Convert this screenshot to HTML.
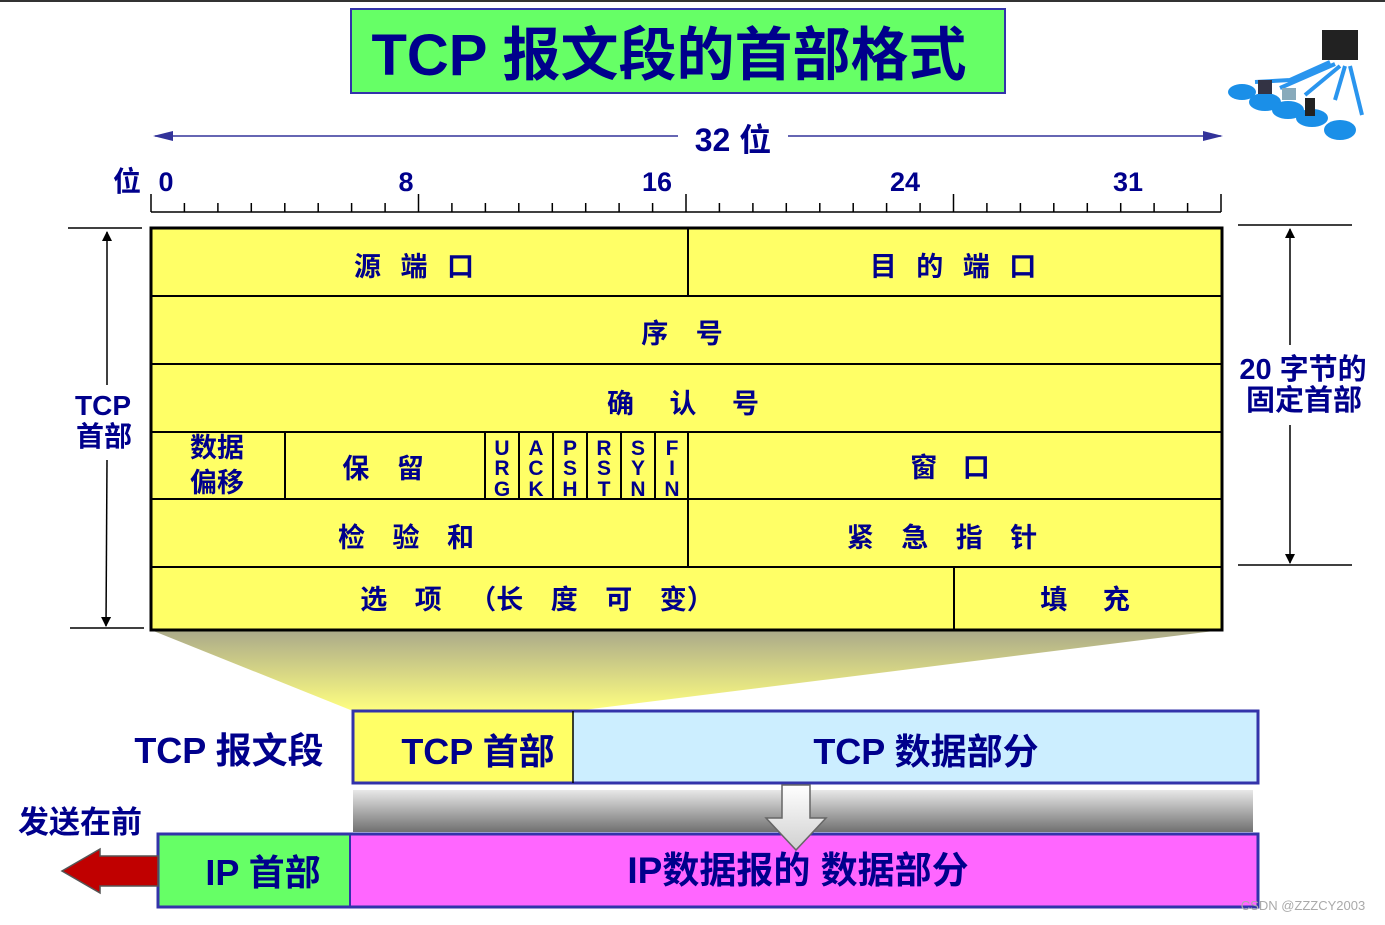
<!DOCTYPE html>
<html><head><meta charset="utf-8"><style>
html,body{margin:0;padding:0;background:#fff;}
svg text{font-family:"Liberation Sans","Noto Sans CJK SC",sans-serif;fill:#00008c;font-weight:bold;}
</style></head><body>
<svg width="1385" height="920" viewBox="0 0 1385 920" xmlns="http://www.w3.org/2000/svg">
<defs>
<linearGradient id="fun" x1="0" y1="0" x2="0" y2="1"><stop offset="0" stop-color="#aaa98a"/><stop offset="1" stop-color="#ffff80"/></linearGradient>
<linearGradient id="gr" x1="0" y1="0" x2="0" y2="1"><stop offset="0" stop-color="#e8e8e8"/><stop offset="1" stop-color="#707070"/></linearGradient>
<linearGradient id="ar" x1="0" y1="0" x2="0" y2="1"><stop offset="0" stop-color="#ffffff"/><stop offset="1" stop-color="#d0d0d0"/></linearGradient>
<marker id="ah" markerWidth="10" markerHeight="10" refX="9" refY="5" orient="auto" markerUnits="userSpaceOnUse"><path d="M0,0 L10,5 L0,10 Z" fill="#000"/></marker>
<marker id="bh" markerWidth="20" markerHeight="10" refX="18" refY="5" orient="auto" markerUnits="userSpaceOnUse"><path d="M0,0 L20,5 L0,10 Z" fill="#33339a"/></marker>
</defs>
<rect x="0" y="0" width="1385" height="2" fill="#333"/>
<!-- title -->
<rect x="351" y="9" width="654" height="84" fill="#66ff66" stroke="#3333aa" stroke-width="2"/>
<text x="669" y="75" font-size="58" text-anchor="middle">TCP 报文段的首部格式</text>
<!-- network icon -->
<g>
<ellipse cx="1242" cy="92" rx="14" ry="8" fill="#1a8fe8"/><ellipse cx="1265" cy="102" rx="16" ry="9" fill="#1a8fe8"/><ellipse cx="1288" cy="110" rx="16" ry="9" fill="#1a8fe8"/><ellipse cx="1312" cy="118" rx="16" ry="9" fill="#1a8fe8"/><ellipse cx="1340" cy="130" rx="16" ry="10" fill="#1a8fe8"/>
<rect x="1322" y="30" width="36" height="30" fill="#222"/>
<path d="M1330,62 L1290,80 L1255,82 M1335,64 L1280,88 M1340,66 L1305,95 M1345,66 L1335,100 M1350,66 L1362,115" stroke="#2a95ee" stroke-width="4" fill="none"/>
<rect x="1258" y="80" width="14" height="14" fill="#334"/><rect x="1282" y="88" width="14" height="12" fill="#8ab"/><rect x="1305" y="98" width="10" height="18" fill="#222"/>
</g>
<!-- 32 bit arrow -->
<line x1="155" y1="136" x2="678" y2="136" stroke="#33339a" stroke-width="1.5" marker-end="url(#bh)" transform="rotate(180 416.5 136)"/>
<line x1="788" y1="136" x2="1221" y2="136" stroke="#33339a" stroke-width="1.5" marker-end="url(#bh)"/>
<text x="733" y="151" font-size="32" text-anchor="middle">32 位</text>
<!-- ruler -->
<text x="127" y="191" font-size="28" text-anchor="middle">位</text>
<text x="166" y="191" font-size="27" text-anchor="middle">0</text>
<text x="406" y="191" font-size="27" text-anchor="middle">8</text>
<text x="657" y="191" font-size="27" text-anchor="middle">16</text>
<text x="905" y="191" font-size="27" text-anchor="middle">24</text>
<text x="1128" y="191" font-size="27" text-anchor="middle">31</text>
<g stroke="#000" stroke-width="1.5">
<line x1="151" y1="212" x2="1221" y2="212"/>
<path d="M151,194V212 M184.4,203V212 M217.9,203V212 M251.3,203V212 M284.8,203V212 M318.2,203V212 M351.6,203V212 M385.1,203V212 M418.5,194V212 M451.9,203V212 M485.4,203V212 M518.8,203V212 M552.3,203V212 M585.7,203V212 M619.1,203V212 M652.6,203V212 M686,194V212 M719.4,203V212 M752.9,203V212 M786.3,203V212 M819.8,203V212 M853.2,203V212 M886.6,203V212 M920.1,203V212 M953.5,194V212 M986.9,203V212 M1020.4,203V212 M1053.8,203V212 M1087.3,203V212 M1120.7,203V212 M1154.1,203V212 M1187.6,203V212 M1221,194V212"/>
</g>
<!-- funnel -->
<polygon points="151,630 1222,630 575,711 353,711" fill="url(#fun)"/>
<!-- table -->
<rect x="151" y="228" width="1071" height="402" fill="#ffff66" stroke="#000" stroke-width="3"/>
<g stroke="#000" stroke-width="2">
<line x1="151" y1="296" x2="1222" y2="296"/><line x1="151" y1="364" x2="1222" y2="364"/><line x1="151" y1="432" x2="1222" y2="432"/><line x1="151" y1="499" x2="1222" y2="499"/><line x1="151" y1="567" x2="1222" y2="567"/>
<line x1="688" y1="228" x2="688" y2="296"/><line x1="688" y1="432" x2="688" y2="567"/>
<line x1="285" y1="432" x2="285" y2="499"/><line x1="485" y1="432" x2="485" y2="499"/><line x1="519" y1="432" x2="519" y2="499"/><line x1="553" y1="432" x2="553" y2="499"/><line x1="587" y1="432" x2="587" y2="499"/><line x1="621" y1="432" x2="621" y2="499"/><line x1="655" y1="432" x2="655" y2="499"/>
<line x1="954" y1="567" x2="954" y2="630"/>
</g>
<g font-size="27">
<text x="414" y="276" text-anchor="middle" word-spacing="12">源 端 口</text>
<text x="953" y="276" text-anchor="middle" word-spacing="12">目 的 端 口</text>
<text x="682" y="343" text-anchor="middle" word-spacing="20">序 号</text>
<text x="683" y="413" text-anchor="middle" word-spacing="28">确 认 号</text>
<text x="217" y="457" text-anchor="middle">数据</text>
<text x="217" y="492" text-anchor="middle">偏移</text>
<text x="383" y="478" text-anchor="middle" word-spacing="20">保 留</text>
<text x="950" y="477" text-anchor="middle" word-spacing="18">窗 口</text>
<text x="406" y="547" text-anchor="middle" word-spacing="20">检 验 和</text>
<text x="942" y="547" text-anchor="middle" word-spacing="20">紧 急 指 针</text>
<text x="537" y="609" text-anchor="middle" word-spacing="20">选 项 （长 度 可 变）</text>
<text x="1085" y="609" text-anchor="middle" word-spacing="28">填 充</text>
</g>
<g font-size="21" text-anchor="middle">
<text x="502" y="455">U</text><text x="502" y="475">R</text><text x="502" y="496">G</text>
<text x="536" y="455">A</text><text x="536" y="475">C</text><text x="536" y="496">K</text>
<text x="570" y="455">P</text><text x="570" y="475">S</text><text x="570" y="496">H</text>
<text x="604" y="455">R</text><text x="604" y="475">S</text><text x="604" y="496">T</text>
<text x="638" y="455">S</text><text x="638" y="475">Y</text><text x="638" y="496">N</text>
<text x="672" y="455">F</text><text x="672" y="475">I</text><text x="672" y="496">N</text>
</g>
<!-- left dimension -->
<g stroke="#000" stroke-width="1.5">
<line x1="68" y1="228" x2="142" y2="228"/><line x1="70" y1="628" x2="144" y2="628"/>
<line x1="107" y1="385" x2="107" y2="232" marker-end="url(#ah)"/>
<line x1="107" y1="460" x2="106" y2="626" marker-end="url(#ah)"/>
<line x1="1238" y1="225" x2="1352" y2="225"/><line x1="1238" y1="565" x2="1352" y2="565"/>
<line x1="1290" y1="345" x2="1290" y2="229" marker-end="url(#ah)"/>
<line x1="1290" y1="425" x2="1290" y2="563" marker-end="url(#ah)"/>
</g>
<text x="103" y="415" font-size="28" text-anchor="middle">TCP</text>
<text x="104" y="446" font-size="28" text-anchor="middle" font-weight="normal">首部</text>
<text x="1303" y="379" font-size="29" text-anchor="middle">20 字节的</text>
<text x="1304" y="410" font-size="29" text-anchor="middle">固定首部</text>
<!-- bottom -->
<rect x="353" y="790" width="900" height="42" fill="url(#gr)"/>
<rect x="353" y="711" width="220" height="72" fill="#ffff66"/>
<rect x="573" y="711" width="685" height="72" fill="#cceeff"/>
<rect x="353" y="711" width="905" height="72" fill="none" stroke="#3333aa" stroke-width="3"/>
<line x1="573" y1="711" x2="573" y2="783" stroke="#000" stroke-width="1.5"/>
<text x="229" y="763" font-size="36" text-anchor="middle">TCP 报文段</text>
<text x="478" y="764" font-size="36" text-anchor="middle">TCP 首部</text>
<text x="926" y="764" font-size="36" text-anchor="middle">TCP 数据部分</text>
<rect x="158" y="834" width="192" height="73" fill="#66ff66"/>
<rect x="350" y="834" width="908" height="73" fill="#ff66ff"/>
<rect x="158" y="834" width="1100" height="73" fill="none" stroke="#3333aa" stroke-width="3"/>
<line x1="350" y1="834" x2="350" y2="907" stroke="#3333aa" stroke-width="2"/>
<polygon points="782,785 810,785 810,818 826,818 796,850 766,818 782,818" fill="url(#ar)" stroke="#666" stroke-width="1.5"/>
<text x="263" y="885" font-size="36" text-anchor="middle">IP 首部</text>
<text x="798" y="883" font-size="37" text-anchor="middle">IP数据报的 数据部分</text>
<text x="80" y="833" font-size="31" text-anchor="middle" font-weight="normal">发送在前</text>
<polygon points="158,856 100,856 100,849 62,871 100,893 100,886 158,886" fill="#c00000" stroke="#555" stroke-width="1.5"/>
<text x="1303" y="910" font-size="13" style="fill:#aaa;font-weight:normal" text-anchor="middle">CSDN @ZZZCY2003</text>
</svg>
</body></html>
